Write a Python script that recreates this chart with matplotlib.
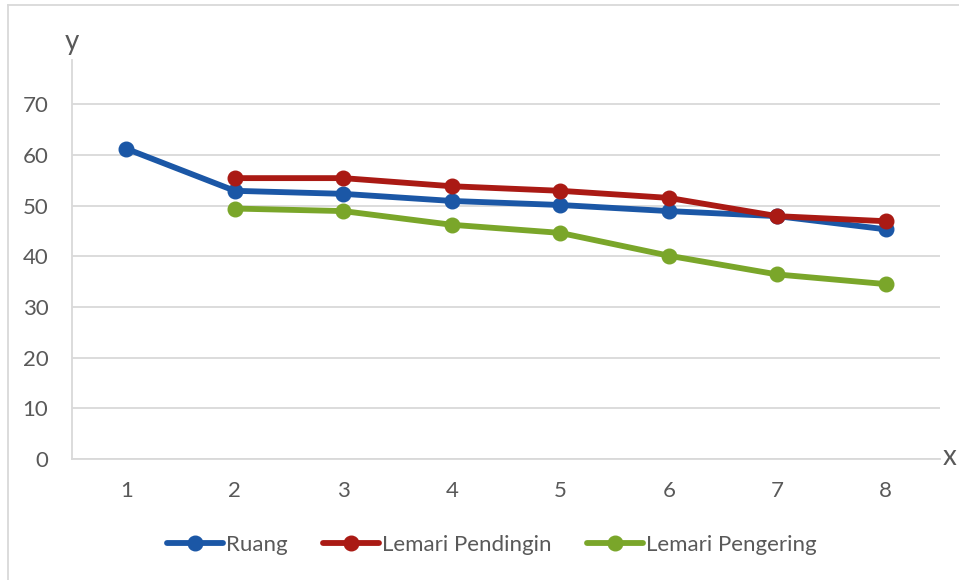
import matplotlib.pyplot as plt
from matplotlib.lines import Line2D

plt.rcParams['font.family'] = ['Lato', 'DejaVu Sans']

x_ruang = [1, 2, 3, 4, 5, 6, 7, 8]
ruang = [61.2, 52.9, 52.3, 50.9, 50.1, 48.9, 47.9, 45.3]

x_lemari = [2, 3, 4, 5, 6, 7, 8]
pendingin = [55.4, 55.4, 53.8, 52.9, 51.5, 47.9, 46.9]
pengering = [49.4, 48.9, 46.2, 44.6, 40.1, 36.4, 34.5]

y_ticks = [0, 10, 20, 30, 40, 50, 60, 70]

blue = '#1b57a6'
red = '#aa1a14'
green = '#7aa62a'
grid_c = '#d9d9d9'
text_c = '#595959'

fig = plt.figure(figsize=(9.59, 5.80), dpi=100)
ax = fig.add_axes([72 / 959, 1 - 459 / 580, (940 - 72) / 959, (459 - 60) / 580])

style = dict(lw=4.2, marker='o', ms=10.5, solid_capstyle='round')
ax.plot(x_ruang, ruang, color=blue, label='Ruang', **style)
ax.plot(x_lemari, pendingin, color=red, label='Lemari Pendingin', **style)
ax.plot(x_lemari, pengering, color=green, label='Lemari Pengering', **style)

ax.set_xlim(0.5, 8.5)
ax.set_ylim(0, 78.7)
ax.set_xticks(x_ruang)
ax.set_yticks(y_ticks)
ax.grid(axis='y', color=grid_c, lw=1.3)
ax.set_axisbelow(True)
for s in ['top', 'right']:
    ax.spines[s].set_visible(False)
ax.spines['left'].set_color(grid_c)
ax.spines['bottom'].set_color(grid_c)
ax.spines['left'].set_linewidth(1.3)
ax.spines['bottom'].set_linewidth(1.3)
ax.tick_params(length=0, labelsize=16, colors=text_c)
ax.tick_params(axis='x', pad=16)
ax.tick_params(axis='y', pad=17)

# axis names at the ends of the axes
fig.text(72 / 959, 1 - 42 / 580, 'y', fontsize=20, color=text_c,
         ha='center', va='center')
fig.text(950 / 959, 1 - 457 / 580, 'x', fontsize=20, color=text_c,
         ha='center', va='center')

# thin frame around the chart
fig.add_artist(Line2D([8 / 959, 8 / 959], [0, 1 - 5 / 580], color=grid_c,
                      lw=1.3, transform=fig.transFigure))
fig.add_artist(Line2D([8 / 959, 1], [1 - 5 / 580, 1 - 5 / 580], color=grid_c,
                      lw=1.3, transform=fig.transFigure))

fig.legend(loc='center', bbox_to_anchor=(492 / 959, 1 - 545 / 580), ncol=3,
           frameon=False, fontsize=16, labelcolor=text_c, handlelength=2.5,
           handletextpad=0.15, columnspacing=1.6)

fig.savefig('out.png', dpi=100, facecolor='white')
